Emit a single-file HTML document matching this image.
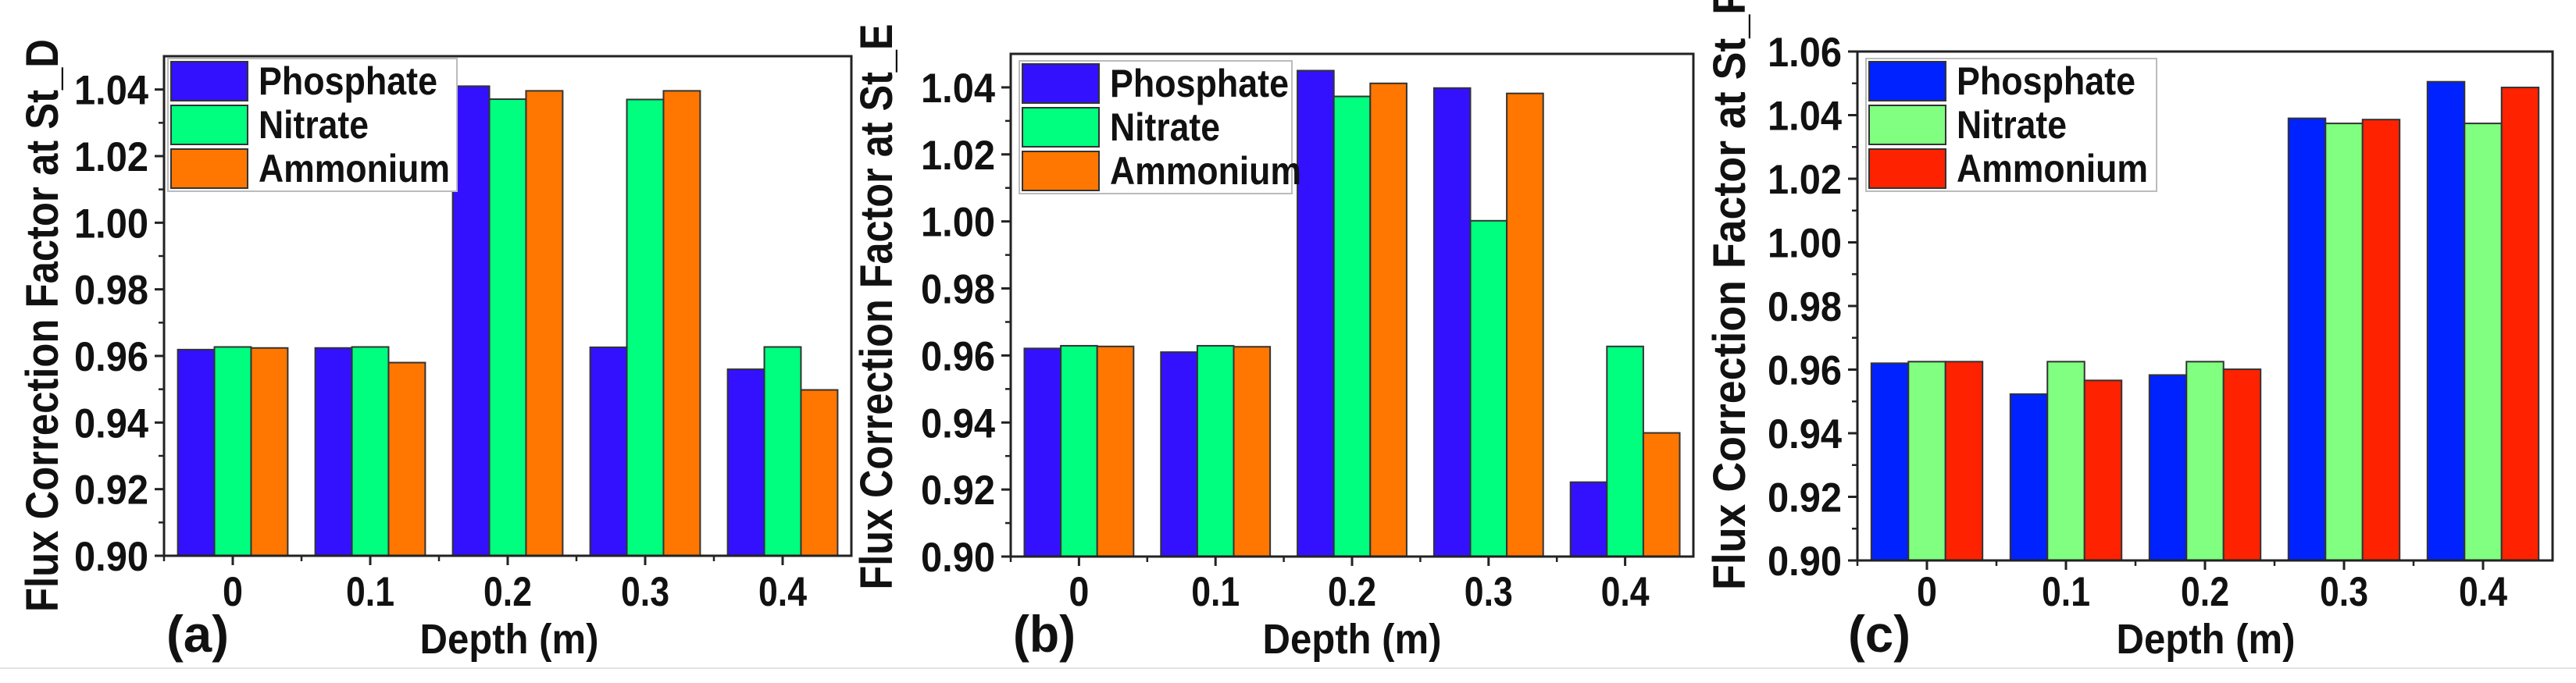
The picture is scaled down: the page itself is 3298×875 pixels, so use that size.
<!DOCTYPE html>
<html><head><meta charset="utf-8"><style>
html,body{margin:0;padding:0;background:#fff;}
svg{display:block;font-family:"Liberation Sans",Arial,sans-serif;font-weight:bold;}
</style></head><body>
<svg id="fig" width="3298" height="875" viewBox="0 0 3298 875" xmlns="http://www.w3.org/2000/svg">
<line x1="0" y1="856" x2="3298" y2="856" stroke="#e2e2e2" stroke-width="2"/>
</svg>
<script>
const categories = ["0","0.1","0.2","0.3","0.4"];
const seriesNames = ["Phosphate","Nitrate","Ammonium"];
const aPhosphate = [0.9619,0.9624,1.0410,0.9626,0.9560];
const aNitrate   = [0.9627,0.9627,1.0371,1.0370,0.9627];
const aAmmonium  = [0.9624,0.9580,1.0396,1.0396,0.9498];
const bPhosphate = [0.9621,0.9610,1.0450,1.0398,0.9222];
const bNitrate   = [0.9629,0.9629,1.0373,1.0002,0.9627];
const bAmmonium  = [0.9627,0.9626,1.0412,1.0382,0.9369];
const cPhosphate = [0.9620,0.9523,0.9583,1.0390,1.0505];
const cNitrate   = [0.9625,0.9625,0.9625,1.0374,1.0374];
const cAmmonium  = [0.9625,0.9566,0.9601,1.0386,1.0487];
const abTicks = ["0.90","0.92","0.94","0.96","0.98","1.00","1.02","1.04"];
const cTicks  = ["0.90","0.92","0.94","0.96","0.98","1.00","1.02","1.04","1.06"];

const NS="http://www.w3.org/2000/svg";
const svg=document.getElementById('fig');
function mk(tag,attrs,parent){const e=document.createElementNS(NS,tag);for(const k in attrs)e.setAttribute(k,attrs[k]);(parent||svg).appendChild(e);return e;}
function fit(t,len){t.setAttribute('textLength',len);t.setAttribute('lengthAdjust','spacingAndGlyphs');}
const legendLens=[229,141,245];

function panel(cfg){
  const g=mk('g',{});
  
  
  const L=cfg.left,R=cfg.right,T=cfg.top,B=cfg.bottom;
  const y=v=>B-(v-cfg.ymin)/(cfg.ymax-cfg.ymin)*(B-T);
  const cw=(R-L)/categories.length;
  const x=i=>L+cw*(i+0.5);
  const bw=cw*0.8/3;
  const data=[cfg.p,cfg.n,cfg.a];
  data.forEach((arr,s)=>{
    arr.forEach((v,i)=>{
      const r=mk('rect',{x:x(i)-1.5*bw+s*bw,y:y(v),width:bw,height:B-y(v),fill:cfg.colors[s],stroke:'#333',"stroke-width":2},g);
      
      
    });
  });
  const fr=mk('rect',{x:L,y:T,width:R-L,height:B-T,fill:'none',stroke:'#222',"stroke-width":3},g);
  
  
  cfg.ticks.forEach((t,k)=>{
    const v=parseFloat(t);
    mk('line',{x1:L-12,x2:L,y1:y(v),y2:y(v),stroke:'#222',"stroke-width":3},g);
    if(k<cfg.ticks.length-1){const vm=v+0.01;mk('line',{x1:L-7,x2:L,y1:y(vm),y2:y(vm),stroke:'#222',"stroke-width":2.5},g);}
    const tx=mk('text',{x:L-20,y:y(v)+19,"text-anchor":"end","font-size":53,fill:'#111'},g);
    tx.textContent=t;
    fit(tx,95);
    
    
  });
  categories.forEach((c,i)=>{
    mk('line',{x1:x(i),x2:x(i),y1:B,y2:B+12,stroke:'#222',"stroke-width":3},g);
    mk('line',{x1:L+cw*i,x2:L+cw*i,y1:B,y2:B+7,stroke:'#222',"stroke-width":2.5},g);
    const tx=mk('text',{x:x(i),y:cfg.xlabY,"text-anchor":"middle","font-size":53,fill:'#111'},g);
    tx.textContent=c;
    fit(tx,c.length===1?26:62);
    
    
  });
  const xt=mk('text',{x:cfg.xtitleX,y:837,"text-anchor":"middle","font-size":54,fill:'#111'},g);
  xt.textContent='Depth (m)';
  fit(xt,229);
  
  
  const yt=mk('text',{x:0,y:0,"text-anchor":"middle","font-size":58,fill:'#111',transform:`translate(${cfg.ytX},${cfg.ytY}) rotate(-90)`},g);
  yt.textContent=cfg.ytitle;
  fit(yt,cfg.ytLen);
  
  
  const pl=mk('text',{x:cfg.letterX,y:835,"font-size":66,fill:'#111'},g);
  pl.textContent=cfg.letter;
  fit(pl,80);
  
  
  const lg=mk('g',{},g);
  
  
  mk('rect',{x:cfg.lx,y:cfg.ly,width:cfg.lw,height:170,fill:'#fff',stroke:'#bbb',"stroke-width":2},lg);
  seriesNames.forEach((nm,s)=>{
    const e=mk('g',{},lg);
    
    
    mk('rect',{x:cfg.lx+4,y:cfg.ly+4+s*56,width:98,height:50,fill:cfg.colors[s],stroke:'#333',"stroke-width":2},e);
    const t=mk('text',{x:cfg.lx+116,y:cfg.ly+46+s*56,"font-size":50,fill:'#111'},e);
    t.textContent=nm;
    fit(t,legendLens[s]);
  });
}

panel({id:'a',left:210,right:1090,top:72,bottom:712,ymin:0.90,ymax:1.05,ticks:abTicks,
  p:aPhosphate,n:aNitrate,a:aAmmonium,colors:['#3311ff','#00ff7f','#ff7700'],
  xlabY:776,xtitleX:652,ytitle:'Flux Correction Factor at St_D',ytX:74,ytY:417,ytLen:734,letter:'(a)',letterX:213,
  lx:215,ly:75,lw:370});
panel({id:'b',left:1294,right:2168,top:69,bottom:713,ymin:0.90,ymax:1.05,ticks:abTicks,
  p:bPhosphate,n:bNitrate,a:bAmmonium,colors:['#3311ff','#00ff7f','#ff7700'],
  xlabY:776,xtitleX:1731,ytitle:'Flux Correction Factor at St_E',ytX:1142,ytY:393,ytLen:725,letter:'(b)',letterX:1297,
  lx:1305,ly:78,lw:349});
panel({id:'c',left:2378,right:3268,top:66,bottom:718,ymin:0.90,ymax:1.06,ticks:cTicks,
  p:cPhosphate,n:cNitrate,a:cAmmonium,colors:['#0022ff','#80ff80','#ff2200'],
  xlabY:776,xtitleX:2824,ytitle:'Flux Correction Factor at St_F',ytX:2234,ytY:371,ytLen:770,letter:'(c)',letterX:2366,
  lx:2389,ly:75,lw:372});
</script>
</body></html>
